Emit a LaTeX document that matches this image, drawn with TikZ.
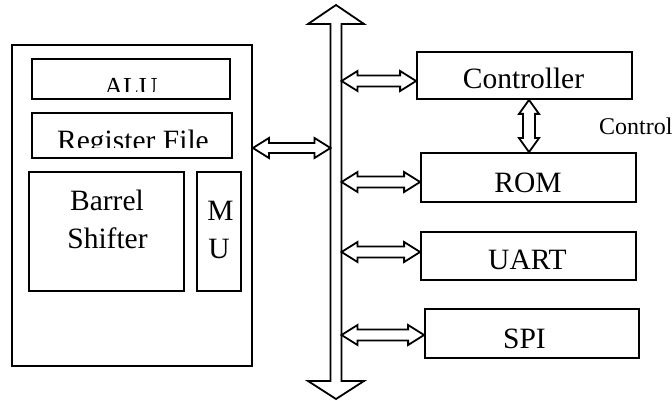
\documentclass[tikz,border=0pt]{standalone}
\usepackage{fontspec}
\setmainfont{Liberation Serif}
\usetikzlibrary{calc}

\tikzset{
  box/.style={draw, line width=1.8pt, rectangle, inner sep=0pt},
  lbl/.style={font=\fontsize{29.5}{32}\selectfont, inner sep=0pt, anchor=base},
  small/.style={font=\fontsize{24}{28}\selectfont, inner sep=0pt, anchor=base west},
  link/.style={draw, line width=1.8pt, fill=white, line join=miter}
}

% horizontal hollow double arrow: left end, right end, y, shaft half-width
\newcommand\hlink[4]{%
  \path[link] let \p1=(#1), \p2=(#2), \p3=(0,#3) in
    (\x1,\y3) -- (\x1+16pt,\y3+10pt) -- (\x1+16pt,\y3+#4pt)
    -- (\x2-16pt,\y3+#4pt) -- (\x2-16pt,\y3+10pt) -- (\x2,\y3)
    -- (\x2-16pt,\y3-10pt) -- (\x2-16pt,\y3-#4pt)
    -- (\x1+16pt,\y3-#4pt) -- (\x1+16pt,\y3-10pt) -- cycle;}

% vertical hollow double arrow: upper end, lower end, x
\newcommand\vlink[3]{%
  \path[link] let \p1=(#1), \p2=(#2), \p3=(#3,0) in
    (\x3,\y1) -- (\x3+10pt,\y1-14pt) -- (\x3+6pt,\y1-14pt)
    -- (\x3+6pt,\y2+14pt) -- (\x3+10pt,\y2+14pt) -- (\x3,\y2)
    -- (\x3-10pt,\y2+14pt) -- (\x3-6pt,\y2+14pt)
    -- (\x3-6pt,\y1-14pt) -- (\x3-10pt,\y1-14pt) -- cycle;}

\begin{document}
\begin{tikzpicture}[x=1pt,y=-1pt]
\useasboundingbox (0,0) rectangle (672,401);

% processor core
\node[box, minimum width=240pt, minimum height=321pt] (cpu) at (132,205.5) {};
\node[box, minimum width=198pt, minimum height=40pt] (alu) at (131,79) {};
\node[box, minimum width=200pt, minimum height=45pt] (reg) at (132,135.5) {};
\node[box, minimum width=155pt, minimum height=119pt] (shift) at (106.5,231.5) {};
\node[box, minimum width=44pt, minimum height=119pt] (mu) at (219,231.5) {};

\begin{scope}
  \clip (32,59) rectangle (230,92);
  \node[lbl, font=\fontsize{26}{28}\selectfont] (alutxt) at (131,96) {ALU};
\end{scope}
\begin{scope}
  \clip (32,113) rectangle (232,148);
  \node[lbl] (regtxt) at (133,150) {Register File};
\end{scope}
\node[lbl] (barrel) at (107,210) {Barrel};
\node[lbl] (shifter) at (107.5,248) {Shifter};
\node[lbl] (mtxt) at (220.5,220) {M};
\node[lbl] (utxt) at (219,258) {U};

% peripherals
\node[box, minimum width=215pt, minimum height=47pt] (ctrl) at (524.5,75.5) {};
\node[box, minimum width=215pt, minimum height=49pt] (rom) at (528.5,177.5) {};
\node[box, minimum width=215pt, minimum height=48pt] (uart) at (528.5,256) {};
\node[box, minimum width=214pt, minimum height=49pt] (spi) at (532,333.5) {};

\node[lbl] (ctrltxt) at (523.5,89) {Controller};
\node[lbl] (romtxt) at (528,192) {ROM};
\node[lbl] (uarttxt) at (527.5,269) {UART};
\node[lbl] (spitxt) at (524.5,348) {SPI};
\node[small] (ctltxt) at (599,135) {Control};

% system bus
\coordinate (busL) at (330.5,200);
\coordinate (busR) at (341.5,200);
\path[link] (336,5) -- (364,24) -- (341.5,24) -- (341.5,381) -- (364,381)
  -- (336,399) -- (308,381) -- (330.5,381) -- (330.5,24) -- (308,24) -- cycle;

% bus connections
\hlink{cpu.east}{busL}{148}{5}
\hlink{busR}{ctrl.west}{81}{5.5}
\hlink{busR}{rom.west}{182}{5.5}
\hlink{busR}{uart.west}{252}{5.5}
\hlink{busR}{spi.west}{335}{5.5}
\vlink{ctrl.south}{rom.north}{529}
\end{tikzpicture}
\end{document}
